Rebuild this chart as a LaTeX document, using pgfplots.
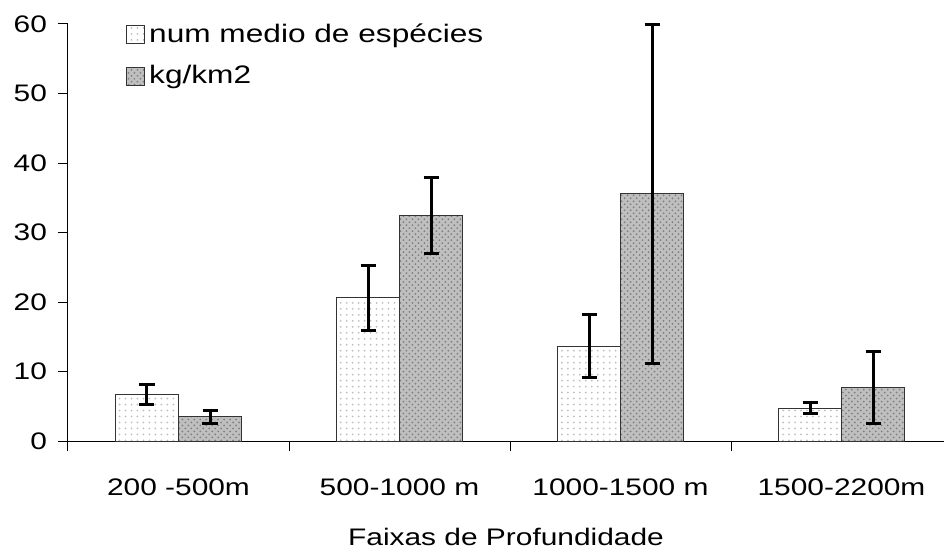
\documentclass[border=0pt]{standalone}
\usepackage{fontspec}
\setmainfont[FakeStretch=1.25]{Liberation Sans}
\usepackage{pgfplots}
\pgfplotsset{compat=1.18}
\usetikzlibrary{patterns}
\begin{document}
\begin{tikzpicture}
\begin{axis}[
  name=ax, at={(0,0)}, anchor=south west,
  scale only axis, width=438bp, height=208.5bp,
  xmin=-0.5, xmax=3.4638, ymin=0, ymax=60,
  axis x line*=bottom, axis y line*=left,
  axis line style={line width=0.5bp},
  ybar=0pt, bar width=31.5bp,
  major tick length=5bp, tick align=outside,
  tick style={draw=black, line width=0.5bp},
  xtick={-0.5,0.5,1.5,2.5},
  xticklabels={},
  extra x ticks={0,1,2,3},
  extra x tick labels={200 -500m, 500-1000 m, 1000-1500 m, 1500-2200m},
  extra x tick style={major tick length=0pt,
    tick label style={yshift=-15.5bp}},
  ytick={0,10,...,60},
  ytick pos=left,
  extra y ticks={0,10,20,30,40,50,60},
  extra y tick labels={},
  extra y tick style={major tick length=5bp, tick align=outside,
    tick style={draw=black, line width=0.5bp}},
  y tick label style={xshift=-2bp},
  /pgf/number format/assume math mode=true,
  tick label style={font=\fontsize{12}{14}\selectfont},
  xlabel={Faixas de Profundidade},
  xlabel style={font=\fontsize{12}{14}\selectfont, yshift=-4.5bp},
  legend style={at={(0.066,1.011)}, anchor=north west, draw=none, fill=none,
    font=\fontsize{12.7}{14}\selectfont, row sep=6bp, inner sep=0pt},
  legend cell align=left,
  legend image code/.code={\draw[#1, line width=0.5bp] (0bp,-4.5bp) rectangle (9bp,4.5bp);},
  clip=false,
]
\addplot[fill=white, draw=black!80, line width=0.5bp,
  postaction={pattern=dots, pattern color=black!25},
  error bars/.cd, y dir=both, y explicit,
  error bar style={line width=1.5bp, black},
  error mark options={rotate=90, mark size=3.75bp, line width=1.5bp, black}]
  table[x=x, y=y, y error=e] {
x y e
0 6.75 1.45
1 20.6 4.7
2 13.65 4.55
3 4.7 0.8
};
\addlegendentry{num medio de espécies}
\addplot[fill=black!25, draw=black!80, line width=0.5bp,
  postaction={pattern=crosshatch dots, pattern color=black!50},
  error bars/.cd, y dir=both, y explicit,
  error bar style={line width=1.5bp, black},
  error mark options={rotate=90, mark size=3.75bp, line width=1.5bp, black}]
  table[x=x, y=y, y error=e] {
x y e
0 3.5 0.95
1 32.45 5.5
2 35.6 24.4
3 7.65 5.2
};
\addlegendentry{kg/km2}
\end{axis}
\pgfresetboundingbox
\path[use as bounding box] (-34bp,-53.5bp) rectangle (438bp,220.5bp);
\end{tikzpicture}
\end{document}
